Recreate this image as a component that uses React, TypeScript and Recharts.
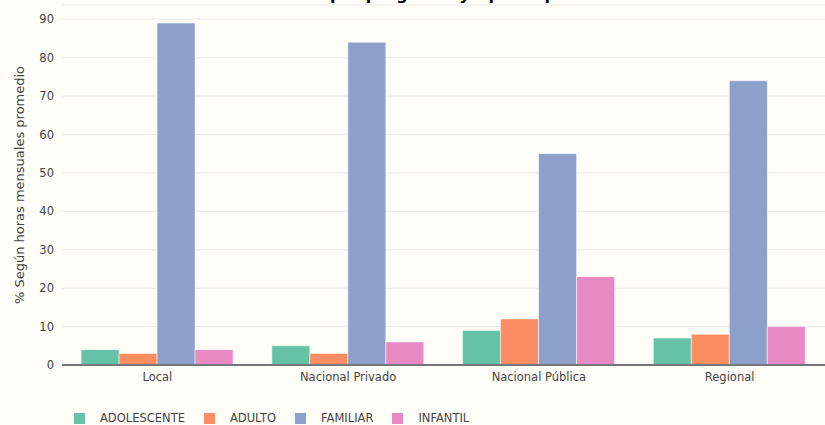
import React from "react";
import { Bar, BarChart, CartesianGrid, XAxis, YAxis } from "recharts";

const categories = ["Local", "Nacional Privado", "Nacional Pública", "Regional"];
const adolescente = [4, 5, 9, 7];
const adulto = [3, 3, 12, 8];
const familiar = [89, 84, 55, 74];
const infantil = [4, 6, 23, 10];
const yTicks = [0, 10, 20, 30, 40, 50, 60, 70, 80, 90];

const series = [
  { key: "ADOLESCENTE", values: adolescente, color: "#66c2a5" },
  { key: "ADULTO", values: adulto, color: "#fc8d62" },
  { key: "FAMILIAR", values: familiar, color: "#8da0cb" },
  { key: "INFANTIL", values: infantil, color: "#e78ac3" },
];

const data = categories.map((name, i) => {
  const row: Record<string, string | number> = { name };
  series.forEach((s) => {
    row[s.key] = s.values[i];
  });
  return row;
});

const font = "'DejaVu Sans', Verdana, sans-serif";

export default function App() {
  return (
    <div
      style={{
        position: "fixed",
        top: 0,
        left: 0,
        width: 825,
        height: 425,
        background: "#fffdf8",
        fontFamily: font,
        overflow: "hidden",
      }}
    >
      <div
        style={{
          position: "absolute",
          top: -15,
          left: 0,
          width: 825,
          textAlign: "center",
          fontWeight: "bold",
          fontSize: 16,
          color: "#000",
        }}
      >
        Distribución por programa y tipo de público
      </div>
      <BarChart
        width={825}
        height={425}
        data={data}
        margin={{ top: 5, right: 0, left: 0, bottom: 30 }}
        barCategoryGap="10%"
        barGap={0}
      >
        <CartesianGrid vertical={false} stroke="#ebebeb" />
        <XAxis
          dataKey="name"
          height={30}
          tickLine={false}
          axisLine={{ stroke: "#777", strokeWidth: 2 }}
          tick={{ fill: "#444", fontSize: 11.5, fontFamily: font }}
          tickMargin={2}
        />
        <YAxis
          width={62}
          domain={[0, 93.7]}
          ticks={yTicks}
          axisLine={false}
          tickLine={false}
          tick={{ fill: "#444", fontSize: 11.5, fontFamily: font }}
          label={{
            value: "% Según horas mensuales promedio",
            angle: -90,
            position: "insideLeft",
            dx: 14,
            dy: 0,
            style: { textAnchor: "middle", fill: "#444", fontSize: 13, fontFamily: font },
          }}
        />
        {series.map((s) => (
          <Bar
            key={s.key}
            dataKey={s.key}
            fill={s.color}
            stroke="#ffffff"
            strokeOpacity={0.5}
            strokeWidth={1}
            isAnimationActive={false}
          />
        ))}
      </BarChart>
      <div
        style={{
          position: "absolute",
          top: 411,
          left: 74,
          display: "flex",
          alignItems: "center",
          fontSize: 11.5,
          color: "#444",
        }}
      >
        {series.map((s) => (
          <div key={s.key} style={{ display: "flex", alignItems: "center", marginRight: 19 }}>
            <span
              style={{
                display: "inline-block",
                width: 11,
                height: 11,
                background: s.color,
                marginRight: 15,
              }}
            />
            <span>{s.key}</span>
          </div>
        ))}
      </div>
    </div>
  );
}
